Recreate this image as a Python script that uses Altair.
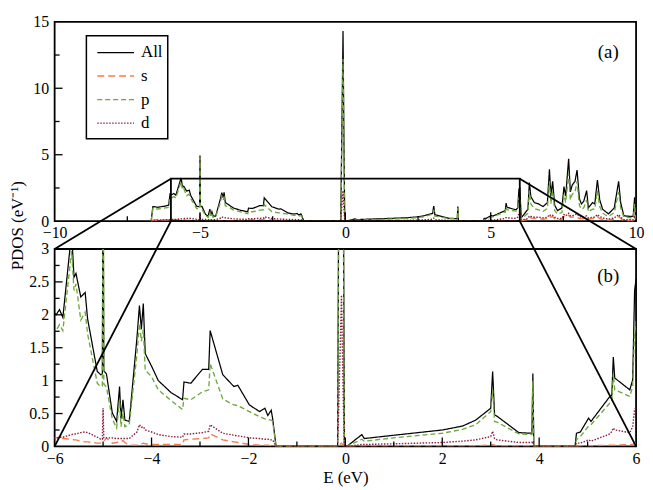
import altair as alt
import pandas as pd

# ---------------- data ----------------
SERIES = ["All", "s", "p", "d"]
COLORS = ["#000000", "#ee7f4d", "#6ea83d", "#8a1c3e"]

# valence band
E_VAL = [-6.68, -6.62, -6.45, -6.25, -6.08, -6.03, -5.97, -5.90, -5.83, -5.65,
         -5.60, -5.56, -5.46, -5.37, -5.32, -5.12, -5.05, -5.015, -5.00, -4.985,
         -4.93, -4.81, -4.72, -4.66, -4.63, -4.59, -4.55, -4.46, -4.30, -4.25,
         -4.21, -4.17, -4.13, -4.00, -3.86, -3.60, -3.36, -3.33, -3.19, -2.95,
         -2.82, -2.79, -2.53, -2.30, -2.22, -1.98, -1.77, -1.66, -1.60, -1.53,
         -1.50, -1.43]
ALL_VAL = [0, 1.10, 1.05, 1.12, 1.20, 2.05, 2.00, 2.08, 1.96, 3.25,
           2.57, 2.63, 2.27, 2.34, 1.94, 1.14, 1.09, 1.10, 4.95, 1.15,
           1.10, 0.51, 0.38, 0.91, 0.42, 0.71, 0.40, 0.38, 1.66, 2.14,
           1.78, 2.17, 1.41, 1.22, 1.00, 0.82, 0.71, 0.98, 0.96, 1.17,
           1.17, 1.76, 1.09, 0.91, 0.93, 0.63, 0.53, 0.58, 0.47, 0.55,
           0.42, 0]
P_VAL = [0, 0.95, 0.92, 0.98, 1.03, 1.75, 1.76, 1.85, 1.76, 2.97,
         2.37, 2.47, 1.92, 2.04, 1.71, 0.96, 0.91, 0.92, 4.80, 0.95,
         0.90, 0.42, 0.28, 0.71, 0.30, 0.50, 0.30, 0.33, 1.41, 1.87,
         1.60, 1.78, 1.16, 1.06, 0.86, 0.70, 0.56, 0.73, 0.71, 0.83,
         0.86, 1.26, 0.72, 0.63, 0.62, 0.53, 0.45, 0.42, 0.41, 0.40,
         0.38, 0]
D_VAL = [0, 0.08, 0.09, 0.10, 0.11, 0.12, 0.13, 0.14, 0.14, 0.18,
         0.19, 0.19, 0.21, 0.22, 0.21, 0.14, 0.11, 0.11, 0.58, 0.13,
         0.13, 0.13, 0.12, 0.12, 0.12, 0.12, 0.12, 0.12, 0.22, 0.33,
         0.29, 0.30, 0.25, 0.22, 0.18, 0.15, 0.14, 0.19, 0.19, 0.21,
         0.23, 0.33, 0.20, 0.17, 0.16, 0.13, 0.12, 0.11, 0.11, 0.10,
         0.10, 0]
S_VAL = [0, 0.08, 0.09, 0.10, 0.11, 0.12, 0.13, 0.13, 0.12, 0.11,
         0.10, 0.10, 0.08, 0.07, 0.07, 0.05, 0.05, 0.05, 0.06, 0.08,
         0.13, 0.05, 0.06, 0.08, 0.07, 0.09, 0.06, 0.02, 0.02, 0.04,
         0.04, 0.05, 0.04, 0.03, 0.03, 0.03, 0.03, 0.10, 0.11, 0.12,
         0.13, 0.19, 0.10, 0.07, 0.06, 0.03, 0.02, 0.02, 0.02, 0.01,
         0.01, 0]

# sharp peak just below 0 eV
E_PEAK = [-0.16, -0.13, -0.08, -0.04, -0.02]
ALL_PEAK = [0, 5.0, 14.3, 4.0, 0]
P_PEAK = [0, 4.2, 12.2, 3.4, 0]
D_PEAK = [0, 0.8, 2.3, 0.6, 0]
S_PEAK = [0, 0.02, 0.05, 0.02, 0]

# band 0 - 3.9 eV
E_B1 = [0.03, 0.34, 0.39, 1.0, 2.0, 2.42, 2.69, 3.00, 3.04, 3.08, 3.13, 3.58, 3.85, 3.87, 3.89]
ALL_B1 = [0, 0.18, 0.12, 0.17, 0.25, 0.31, 0.40, 0.58, 1.14, 0.48, 0.46, 0.21, 0.20, 1.11, 0]
P_B1 = [0, 0.11, 0.08, 0.13, 0.20, 0.26, 0.33, 0.53, 0.86, 0.38, 0.37, 0.19, 0.18, 1.00, 0]
D_B1 = [0, 0.03, 0.03, 0.04, 0.06, 0.08, 0.10, 0.15, 0.23, 0.12, 0.10, 0.06, 0.06, 0.08, 0]
S_B1 = [0, 0.01, 0.01, 0.01, 0.01, 0.01, 0.01, 0.02, 0.03, 0.02, 0.01, 0.01, 0.01, 0.03, 0]

# conduction band 4.7 - 10 eV
E_B2 = [4.74, 4.77, 4.85, 5.02, 5.07, 5.46, 5.50, 5.53, 5.56, 5.87,
        5.93, 5.97, 6.00, 6.05, 6.28, 6.33, 6.38, 6.50, 6.65, 6.80,
        6.95, 7.02, 7.07, 7.13, 7.20, 7.30, 7.45, 7.52, 7.58, 7.68,
        7.74, 7.80, 7.90, 7.97, 8.05, 8.12, 8.20, 8.30, 8.36, 8.50,
        8.58, 8.67, 8.75, 8.85, 9.05, 9.25, 9.40, 9.47, 9.58, 9.90,
        9.95, 9.98]
ALL_B2 = [0, 0.20, 0.22, 0.43, 0.38, 0.76, 0.78, 1.36, 1.04, 0.86,
          1.01, 2.37, 2.55, 0.25, 0.9, 2.9, 1.85, 1.40, 1.30, 1.10,
          1.4, 3.9, 1.9, 3.0, 1.2, 0.8, 1.0, 2.6, 1.9, 4.7,
          2.2, 2.7, 3.0, 3.85, 1.7, 1.3, 1.5, 2.3, 1.0, 1.4,
          1.3, 3.1, 1.6, 0.9, 0.55, 1.0, 3.0, 1.4, 0.4, 0.35,
          1.8, 0.3]
P_B2 = [0, 0.10, 0.15, 0.31, 0.33, 0.66, 0.68, 1.11, 0.86, 0.76,
        0.91, 1.76, 1.90, 0.15, 0.6, 2.3, 1.3, 0.95, 0.85, 0.75,
        0.95, 3.0, 1.3, 2.3, 0.8, 0.55, 0.65, 2.0, 1.4, 3.6,
        1.6, 2.0, 2.2, 3.0, 1.2, 0.9, 1.0, 1.6, 0.7, 0.9,
        0.9, 2.3, 1.1, 0.6, 0.35, 0.65, 2.2, 1.0, 0.3, 0.25,
        1.3, 0.2]
D_B2 = [0, 0.05, 0.05, 0.10, 0.08, 0.19, 0.23, 0.28, 0.25, 0.21,
        0.30, 0.56, 0.60, 0.08, 0.2, 0.4, 0.35, 0.3, 0.3, 0.25,
        0.3, 0.5, 0.4, 0.45, 0.3, 0.2, 0.2, 0.5, 0.4, 0.6,
        0.4, 0.4, 0.5, 0.55, 0.35, 0.3, 0.3, 0.4, 0.25, 0.3,
        0.3, 0.5, 0.35, 0.25, 0.15, 0.25, 0.5, 0.3, 0.12, 0.1,
        0.3, 0.1]
S_B2 = [0, 0.0, 0.01, 0.01, 0.01, 0.02, 0.02, 0.02, 0.02, 0.03,
        0.03, 0.05, 0.05, 0.03, 0.15, 0.3, 0.25, 0.2, 0.2, 0.15,
        0.2, 0.4, 0.3, 0.35, 0.2, 0.1, 0.15, 0.35, 0.3, 0.45,
        0.3, 0.3, 0.35, 0.3, 0.2, 0.2, 0.2, 0.3, 0.15, 0.2,
        0.2, 0.35, 0.2, 0.15, 0.08, 0.15, 0.35, 0.2, 0.05, 0.05,
        0.1, 0.05]

E = E_VAL + E_PEAK + E_B1 + E_B2
VALUES = {
    "All": ALL_VAL + ALL_PEAK + ALL_B1 + ALL_B2,
    "s": S_VAL + S_PEAK + S_B1 + S_B2,
    "p": P_VAL + P_PEAK + P_B1 + P_B2,
    "d": D_VAL + D_PEAK + D_B1 + D_B2,
}
for k in VALUES:
    assert len(VALUES[k]) == len(E), k

rows = []
for name in SERIES:
    for e, v in zip(E, VALUES[name]):
        rows.append({"E": e, "v": v, "series": name})
df = pd.DataFrame(rows)

# ---------------- layout & style ----------------
W, H1, H2, GAP = 586, 201, 199, 28
TOP_X, TOP_Y = [-10, 10], [0, 15]
BOT_X, BOT_Y = [-6, 6], [0, 3]
ZOOM_X, ZOOM_TOP = [-6, 6], 3.2
DASHES = {"All": [1, 0], "s": [7, 4], "p": [5, 3], "d": [1.5, 1.5]}
WIDTHS = {"All": 1.25, "s": 1.4, "p": 1.35, "d": 1.4}
FONT = "Liberation Serif, Times New Roman, serif"

ax_top_x = alt.Axis(values=[-10, -5, 0, 5, 10], title=None, labelPadding=3)
ax_top_y = alt.Axis(values=[0, 5, 10, 15], title="PDOS (eV⁻¹)", titleX=-32, titleY=205,
                    titleAngle=270, titleBaseline="alphabetic", titleAlign="center",
                    labelPadding=6)
ax_bot_x = alt.Axis(values=[-6, -4, -2, 0, 2, 4, 6], title="E (eV)", labelPadding=4, titlePadding=3)
ax_bot_y = alt.Axis(values=[0, 0.5, 1, 1.5, 2, 2.5, 3], format="~g", title=None, labelPadding=6)


def X(field, dom, axis):
    return alt.X(f"{field}:Q", scale=alt.Scale(domain=dom, nice=False, zero=False), axis=axis)


def Y(field, dom, axis):
    return alt.Y(f"{field}:Q", scale=alt.Scale(domain=dom, nice=False, zero=False), axis=axis)


def line_layers(xd, yd, axx, axy, clip):
    out = []
    for i, name in enumerate(SERIES):
        out.append(
            alt.Chart(df[df.series == name]).mark_line(
                color=COLORS[i], strokeDash=DASHES[name], strokeWidth=WIDTHS[name], clip=clip
            ).encode(x=X("E", xd, axx), y=Y("v", yd, axy))
        )
    return out


def tick_layers(xd, yd, axx, axy, H, xmaj, xmin, ymaj, ymin):
    out = []
    for vals, L in ((xmaj, 9), (xmin, 5)):
        out.append(alt.Chart(pd.DataFrame({"t": vals})).mark_rule(color="black", strokeWidth=1.3)
                   .encode(x=X("t", xd, axx), y=alt.value(H), y2=alt.value(H - L)))
    for vals, L in ((ymaj, 8), (ymin, 5)):
        out.append(alt.Chart(pd.DataFrame({"t": vals})).mark_rule(color="black", strokeWidth=1.3)
                   .encode(y=Y("t", yd, axy), x=alt.value(0), x2=alt.value(L)))
    return out


# ---------------- top panel ----------------
top_layers = line_layers(TOP_X, TOP_Y, ax_top_x, ax_top_y, False)
top_layers += tick_layers(TOP_X, TOP_Y, ax_top_x, ax_top_y, H1,
                          [-5, 0, 5], [-7.5, -2.5, 2.5, 7.5], [5, 10], [2.5, 7.5, 12.5])
zoom_df = pd.DataFrame({"x0": [ZOOM_X[0]], "x1": [ZOOM_X[1]], "y0": [0], "y1": [ZOOM_TOP]})
top_layers.append(
    alt.Chart(zoom_df).mark_rect(fillOpacity=0, stroke="black", strokeWidth=1.8)
    .encode(x=X("x0", TOP_X, ax_top_x), x2="x1", y=Y("y0", TOP_Y, ax_top_y), y2="y1")
)
# legend (drawn inside the panel)
lab_df = pd.DataFrame({"k": [0]})
top_layers.append(
    alt.Chart(lab_df).mark_rect(fill="white", stroke="black", strokeWidth=1.5)
    .encode(x=alt.value(32), x2=alt.value(114), y=alt.value(14), y2=alt.value(118))
)
for i, name in enumerate(SERIES):
    yy = 31 + 23.7 * i
    top_layers.append(
        alt.Chart(lab_df).mark_rule(color=COLORS[i], strokeDash=DASHES[name], strokeWidth=WIDTHS[name])
        .encode(x=alt.value(43), x2=alt.value(80), y=alt.value(yy))
    )
    top_layers.append(
        alt.Chart(pd.DataFrame({"label": [name]})).mark_text(
            font=FONT, fontSize=17, align="left", baseline="middle", color="black")
        .encode(x=alt.value(87), y=alt.value(yy), text="label:N")
    )
top_layers.append(
    alt.Chart(pd.DataFrame({"label": ["(a)"]})).mark_text(font=FONT, fontSize=19, color="black")
    .encode(x=alt.value(558), y=alt.value(31), text="label:N")
)
top = alt.layer(*top_layers).properties(width=W, height=H1)

# ---------------- bottom panel ----------------
def top_to_bot_x(x):
    return BOT_X[0] + (x - TOP_X[0]) / (TOP_X[1] - TOP_X[0]) * (BOT_X[1] - BOT_X[0])


def top_to_bot_y(y):
    py = (TOP_Y[1] - y) / (TOP_Y[1] - TOP_Y[0]) * H1 - H1 - GAP
    return BOT_Y[1] - py / H2 * (BOT_Y[1] - BOT_Y[0])


conn = []
for zx, bx in ((ZOOM_X[0], BOT_X[0]), (ZOOM_X[1], BOT_X[1])):
    conn.append({"x0": top_to_bot_x(zx), "y0": top_to_bot_y(ZOOM_TOP), "x1": bx, "y1": BOT_Y[1]})
    conn.append({"x0": top_to_bot_x(zx), "y0": top_to_bot_y(0), "x1": bx, "y1": BOT_Y[0]})
conn_df = pd.DataFrame(conn)

bot_layers = line_layers(BOT_X, BOT_Y, ax_bot_x, ax_bot_y, True)
bot_layers += tick_layers(BOT_X, BOT_Y, ax_bot_x, ax_bot_y, H2,
                          [-4, -2, 0, 2, 4], [-5, -3, -1, 1, 3, 5],
                          [0.5, 1, 1.5, 2, 2.5], [0.25, 0.75, 1.25, 1.75, 2.25, 2.75])
bot_layers.append(
    alt.Chart(conn_df).mark_rule(color="black", strokeWidth=1.8, clip=False)
    .encode(x=X("x0", BOT_X, ax_bot_x), y=Y("y0", BOT_Y, ax_bot_y), x2="x1", y2="y1")
)
bot_layers.append(
    alt.Chart(pd.DataFrame({"label": ["(b)"]})).mark_text(font=FONT, fontSize=19, color="black")
    .encode(x=alt.value(558), y=alt.value(27), text="label:N")
)
bottom = alt.layer(*bot_layers).properties(width=W, height=H2)

chart = alt.vconcat(top, bottom, spacing=GAP, bounds="flush").properties(
    padding={"top": 3, "left": 0, "right": 0, "bottom": 0}
).configure_view(
    stroke="black", strokeWidth=1.8
).configure_axis(
    labelFont=FONT, labelFontSize=16, labelColor="black",
    titleFont=FONT, titleFontSize=17, titleColor="black", titleFontWeight="normal",
    grid=False, ticks=False, domain=False, labelFlush=False, labelOverlap=False,
)

chart.save("out.html", embed_options={"renderer": "svg", "actions": False})
